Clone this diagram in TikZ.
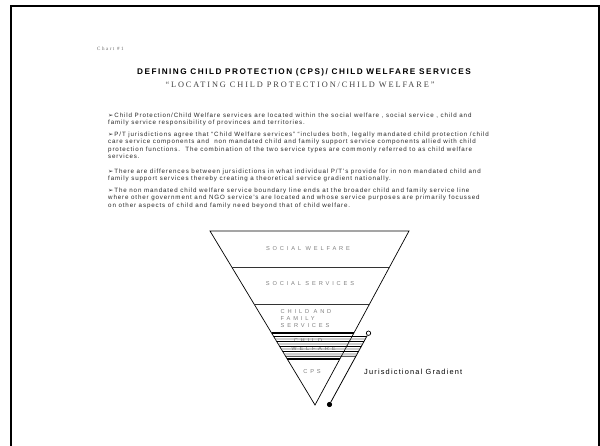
\documentclass[tikz,border=0pt]{standalone}
\usepackage{fontspec}
\setmainfont{Liberation Sans}
\newfontfamily\headfont[LetterSpace=18]{Liberation Sans}
\newfontfamily\subheadfont[LetterSpace=23]{Liberation Serif}
\newfontfamily\bodyfont[LetterSpace=14]{Liberation Sans}
\newfontfamily\tierfont[LetterSpace=50]{Liberation Sans}
\newfontfamily\gradfont[LetterSpace=16]{Liberation Sans}
\newfontfamily\chartfont[LetterSpace=30]{Liberation Serif}
\newfontfamily\arrowfont{DejaVu Sans}
\newcommand{\bul}{{\arrowfont ➢}\,}
\usetikzlibrary{calc,positioning}

\begin{document}
\begin{tikzpicture}[x=1pt,y=-1pt,
    heading/.style={font=\headfont\bfseries\fontsize{8.2}{10}\selectfont, inner sep=0pt},
    subheading/.style={font=\subheadfont\fontsize{8.3}{10}\selectfont, text=black!75, inner sep=0pt},
    chartlabel/.style={font=\chartfont\fontsize{5}{6}\selectfont, text=black!60, inner sep=0pt},
    para/.style={anchor=north west, align=left, inner sep=0pt, text=black!85, font=\bodyfont\fontsize{6.2}{7.3}\selectfont},
    tierlabel/.style={font=\tierfont\fontsize{5.7}{7.3}\selectfont, text=black!50, inner sep=0pt},
    funnel/.style={draw=black, line width=0.7pt},
    tierline/.style={draw=black!80, line width=0.8pt},
    thickline/.style={draw=black, line width=2pt},
    stripe/.style={line width=0.7pt},
    knob/.style={circle, draw=black, inner sep=0pt, minimum size=4.4pt, line width=0.7pt}
]
    \useasboundingbox (0,0) rectangle (600,446);
    % Frame
    \draw[line width=2.2pt] (11,446) -- (11,6) -- (599,6) -- (599,446);

    % Heading
    \node[chartlabel, anchor=west] (chart) at (97,49) {Chart \#1};
    \node[heading] (head) at (304,72) {DEFINING CHILD PROTECTION (CPS)/ CHILD WELFARE SERVICES};
    \node[subheading] (subhead) at (300,84.5) {“LOCATING CHILD PROTECTION/CHILD WELFARE”};

    % Bullets
    \node[para] (p1) at (108,112.8) {
        \bul Child Protection/Child Welfare services are located within the social welfare , social service , child and\\
        family service responsibility of provinces and territories.
    };
    \node[para] (p2) at (108,132) {
        \bul P/T jurisdictions agree that “Child Welfare services” “includes both, legally mandated child protection /child\\
        care service components and\ \ non mandated child and family support service components allied with child\\
        protection functions.\ \ The combination of the two service types are commonly referred to as child welfare\\
        services.
    };
    \node[para] (p3) at (108,168.8) {
        \bul There are differences between jursidictions in what individual P/T’s provide for in non mandated child and\\
        family support services thereby creating a theoretical service gradient nationally.
    };
    \node[para] (p4) at (108,187.8) {
        \bul The non mandated child welfare service boundary line ends at the broader child and family service line\\
        where other government and NGO service’s are located and whose service purposes are primarily focussed\\
        on other aspects of child and family need beyond that of child welfare.
    };

    % Funnel
    \coordinate (tl) at (210,231);
    \coordinate (tr) at (409,231);
    \coordinate (ap) at (315,405);
    \draw[funnel] (tl) -- (tr) -- (ap) -- cycle;
    \draw[tierline] ($(tl)!{(267.7-231)/174}!(ap)$) -- ($(tr)!{(267.7-231)/174}!(ap)$);
    \draw[tierline] ($(tl)!{(304-231)/174}!(ap)$) -- ($(tr)!{(304-231)/174}!(ap)$);

    % Tier labels
    \node[tierlabel] (sw) at (308,249) {SOCIAL WELFARE};
    \node[tierlabel] (ss) at (310,284) {SOCIAL SERVICES};
    \node[tierlabel, anchor=west, align=left] (cfs) at (280.5,318.5) {CHILD AND\\FAMILY\\SERVICES};
    \node[tierlabel] (cw1) at (308,340.7) {CHILD};
    \node[tierlabel] (cw2) at (313.5,349) {WELFARE};
    \node[tierlabel] (cps) at (312,372) {CPS};

    % Jurisdictional gradient
    \node[knob] (gtop) at (368.5,333.2) {};
    \node[knob, fill=black] (gbot) at (329.5,404.5) {};
    \draw[line width=0.8pt] (gtop) -- (gbot);
    \node[anchor=west, inner sep=0pt, font=\gradfont\fontsize{7.4}{8}\selectfont] (grad) at (364,372) {Jurisdictional Gradient};

    % Child welfare stripes
    \foreach \y/\c in {336.5/black, 339/black!55, 341.5/black, 344/black!55, 346.5/black, 349/black!55, 351.5/black, 354/black!55, 356.3/black}
        \draw[stripe, draw=\c] ($(tl)!{(\y-231)/174}!(ap)$) -- ($(gtop.center)!{(\y-333.2)/71.3}!(gbot.center)$);
    \draw[thickline] ($(tl)!{(333.5-231)/174}!(ap)$) -- ($(tr)!{(333.5-231)/174}!(ap)$);
    \draw[thickline] ($(tl)!{(358.8-231)/174}!(ap)$) -- ($(tr)!{(358.8-231)/174}!(ap)$);
\end{tikzpicture}
\end{document}
